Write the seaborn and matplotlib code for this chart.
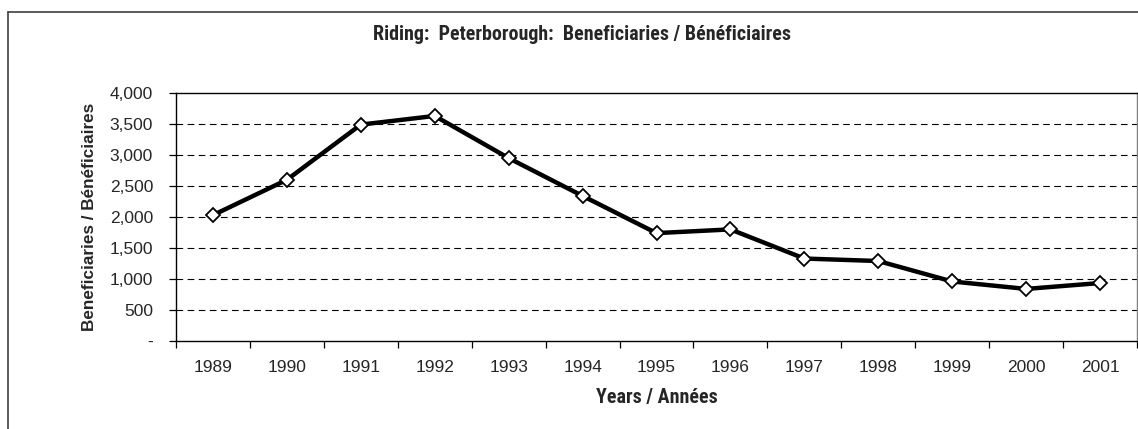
import matplotlib
matplotlib.use("Agg")
import matplotlib.pyplot as plt
from matplotlib import font_manager
from matplotlib.lines import Line2D
from matplotlib.ticker import FixedLocator, FuncFormatter
import numpy as np
import pandas as pd
import seaborn as sns

# Data
years = ["1989", "1990", "1991", "1992", "1993", "1994", "1995",
         "1996", "1997", "1998", "1999", "2000", "2001"]
beneficiaries = [2030, 2600, 3490, 3630, 2950, 2340, 1740,
                 1800, 1330, 1290, 960, 840, 935]
y_ticks = [0, 500, 1000, 1500, 2000, 2500, 3000, 3500, 4000]

title_text = "Riding:  Peterborough:  Beneficiaries / Bénéficiaires"
x_label = "Years / Années"
y_label = "Beneficiaries / Bénéficiaires"

sns.set_theme(style="white")
plt.rcParams["font.family"] = ["Liberation Sans", "DejaVu Sans"]

# pick a condensed face for the title and x label if one is installed
available = {f.name for f in font_manager.fontManager.ttflist}
narrow_choice = None
for name in ["Liberation Sans Narrow", "Arial Narrow", "Roboto Condensed",
             "Open Sans Condensed", "DejaVu Sans Condensed"]:
    if name in available:
        narrow_choice = name
        break
narrow = ([narrow_choice] if narrow_choice else []) + ["Liberation Sans", "DejaVu Sans"]
narrow_size = 14.4 if narrow_choice else 12.3

df = pd.DataFrame({"pos": np.arange(len(years)), "value": beneficiaries})

W, H = 1138, 429
fig = plt.figure(figsize=(W / 100, H / 100), dpi=100)
ax = fig.add_axes([176 / W, 1 - 341 / H, (1137 - 176) / W, (341 - 93) / H])

# dashed horizontal gridlines
for v in y_ticks[1:-1]:
    ax.axhline(v, color="black", lw=0.8, ls=(0, (6, 4)), zorder=1)

sns.lineplot(data=df, x="pos", y="value", ax=ax, color="black", lw=3.2,
             marker="D", markersize=7.3, markerfacecolor="white",
             markeredgecolor="black", markeredgewidth=1.3, zorder=3)

ax.set_xlim(-0.5, len(years) - 0.5)
ax.set_ylim(0, 4000)

# category boundaries as tick marks, labels centered on categories
ax.xaxis.set_major_locator(FixedLocator(np.arange(len(years) + 1) - 0.5))
ax.xaxis.set_minor_locator(FixedLocator(np.arange(len(years))))
ax.set_xticklabels([], minor=False)
ax.set_xticklabels(years, minor=True)
ax.tick_params(axis="x", which="major", bottom=True, length=5, width=0.9,
               direction="out", color="black")
ax.tick_params(axis="x", which="minor", bottom=True, length=0, pad=14,
               labelsize=12.5)

ax.yaxis.set_major_locator(FixedLocator(y_ticks))
ax.yaxis.set_major_formatter(
    FuncFormatter(lambda v, p: "-" if v == 0 else f"{int(v):,}"))
ax.tick_params(axis="y", left=True, length=5, width=0.9, direction="out",
               color="black", labelsize=12.5, pad=11.5)

for s in ["top", "left", "bottom"]:
    ax.spines[s].set_color("black")
    ax.spines[s].set_linewidth(1.0)
ax.spines["right"].set_color("#808080")
ax.spines["right"].set_linewidth(1.0)

ax.set_xlabel(x_label, fontsize=narrow_size, fontweight="bold", family=narrow,
              labelpad=9)
ax.set_ylabel(y_label, fontsize=12.3, fontweight="bold", labelpad=9)

fig.text(582 / W, 1 - 35 / H, title_text, ha="center", va="center",
         fontsize=narrow_size, fontweight="bold", family=narrow)

# outer chart frame (top and left edges)
fig.add_artist(Line2D([8 / W, 1.0], [1 - 12 / H, 1 - 12 / H],
                      transform=fig.transFigure, color="#404040", lw=1.2))
fig.add_artist(Line2D([8 / W, 8 / W], [0, 1 - 12 / H],
                      transform=fig.transFigure, color="#404040", lw=1.2))

fig.savefig("out.png", dpi=100)
